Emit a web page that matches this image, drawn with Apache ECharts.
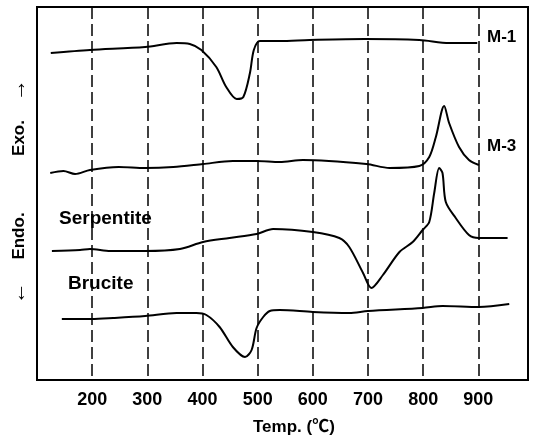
<!DOCTYPE html>
<html lang="en">
<head>
    <meta charset="UTF-8">
    <title>DTA curves</title>
    <script src="https://cdn.jsdelivr.net/npm/echarts@6/dist/echarts.min.js"></script>
    <style>
        html, body { margin: 0; padding: 0; background: #fff; }
        #main { width: 537px; height: 443px; }
    </style>
</head>
<body>
    <div id="main"></div>
    <script>
        // temperatures (°C) and signal heights (arbitrary units)
        var m1Temp = [125, 196, 296, 353, 377, 398, 425, 443, 462, 474, 486, 493, 504, 540, 594, 694, 793, 847, 898];
        var m1Val  = [327, 330, 333, 337, 336, 330, 313, 293, 281, 283, 307, 330, 339, 339, 340, 341, 340, 337, 337];

        var m3Temp = [124, 148, 169, 196, 248, 296, 347, 401, 455, 498, 540, 582, 697, 739, 793, 811, 823, 838, 847, 865, 883, 901];
        var m3Val  = [207, 209, 206, 210, 213, 212, 213, 216, 219, 219, 218, 220, 216, 212, 214, 223, 243, 274, 257, 233, 220, 215];

        var serpTemp = [127, 178, 196, 233, 296, 359, 401, 449, 498, 528, 600, 648, 666, 691, 706, 727, 757, 781, 799, 811, 820, 829, 835, 841, 859, 883, 901, 953];
        var serpVal  = [129, 130, 131, 129, 129, 131, 138, 142, 146, 151, 148, 142, 133, 107, 92, 105, 128, 138, 150, 158, 187, 212, 207, 178, 162, 145, 142, 142];

        var bruTemp = [145, 199, 238, 296, 353, 389, 407, 431, 455, 477, 489, 498, 510, 522, 540, 600, 666, 700, 799, 835, 901, 956];
        var bruVal  = [61, 61, 62, 64, 67, 67, 65, 53, 33, 23, 30, 52, 63, 69, 70, 68, 67, 69, 72, 74, 73, 76];

        var xTicks = [200, 300, 400, 500, 600, 700, 800, 900];

        function pairs(t, v) {
            var out = [];
            for (var i = 0; i < t.length; i++) {
                out.push([t[i], v[i]]);
            }
            return out;
        }

        function curve(name, t, v) {
            return {
                name: name,
                type: 'line',
                data: pairs(t, v),
                smooth: 0.3,
                symbol: 'none',
                lineStyle: { color: '#000', width: 2 }
            };
        }

        var font = '"Liberation Sans", Arial, "Noto Sans CJK SC", sans-serif';

        function label(text, x, y, size) {
            return {
                type: 'text',
                left: x,
                top: y,
                style: {
                    text: text,
                    fill: '#000',
                    font: 'bold ' + size + 'px ' + font
                }
            };
        }

        function sideText(text, x, y, size) {
            return {
                type: 'text',
                x: x,
                y: y,
                rotation: Math.PI / 2,
                style: {
                    text: text,
                    fill: '#000',
                    font: 'bold ' + size + 'px ' + font,
                    align: 'center',
                    verticalAlign: 'middle'
                }
            };
        }

        var mychart = echarts.init(document.getElementById('main'));
        var option = {
            animation: false,
            grid: {
                left: 37, top: 7, right: 9, bottom: 63,
                show: true,
                borderColor: '#000',
                borderWidth: 2
            },
            xAxis: {
                type: 'value',
                min: 100,
                max: 990,
                interval: 100,
                axisLine: { show: true, lineStyle: { color: '#000', width: 2 } },
                axisTick: { show: false },
                axisLabel: {
                    margin: 11,
                    color: '#000',
                    fontSize: 18,
                    fontWeight: 'bold',
                    fontFamily: font,
                    formatter: function (v) {
                        return xTicks.indexOf(v) >= 0 ? String(v) : '';
                    }
                },
                splitLine: {
                    show: true,
                    lineStyle: { color: '#000', width: 1.5, type: [12, 5] }
                }
            },
            yAxis: {
                type: 'value',
                min: 0,
                max: 373,
                axisLine: { show: true, lineStyle: { color: '#000', width: 2 } },
                axisTick: { show: false },
                axisLabel: { show: false },
                splitLine: { show: false }
            },
            series: [
                curve('M-1', m1Temp, m1Val),
                curve('M-3', m3Temp, m3Val),
                curve('Serpentite', serpTemp, serpVal),
                curve('Brucite', bruTemp, bruVal)
            ],
            graphic: [
                label('M-1', 487, 29, 17),
                label('M-3', 487, 138, 17),
                label('Serpentite', 59, 209, 19),
                label('Brucite', 68, 274, 19),
                label('Temp. (\u2103)', 253, 419, 17),
                sideText('\u2192', 19, 90, 22),
                sideText('Exo.', 19, 138, 17),
                sideText('Endo.', 19, 236, 17),
                sideText('\u2190', 19, 293, 22)
            ]
        };
        mychart.setOption(option);
    </script>
</body>
</html>
